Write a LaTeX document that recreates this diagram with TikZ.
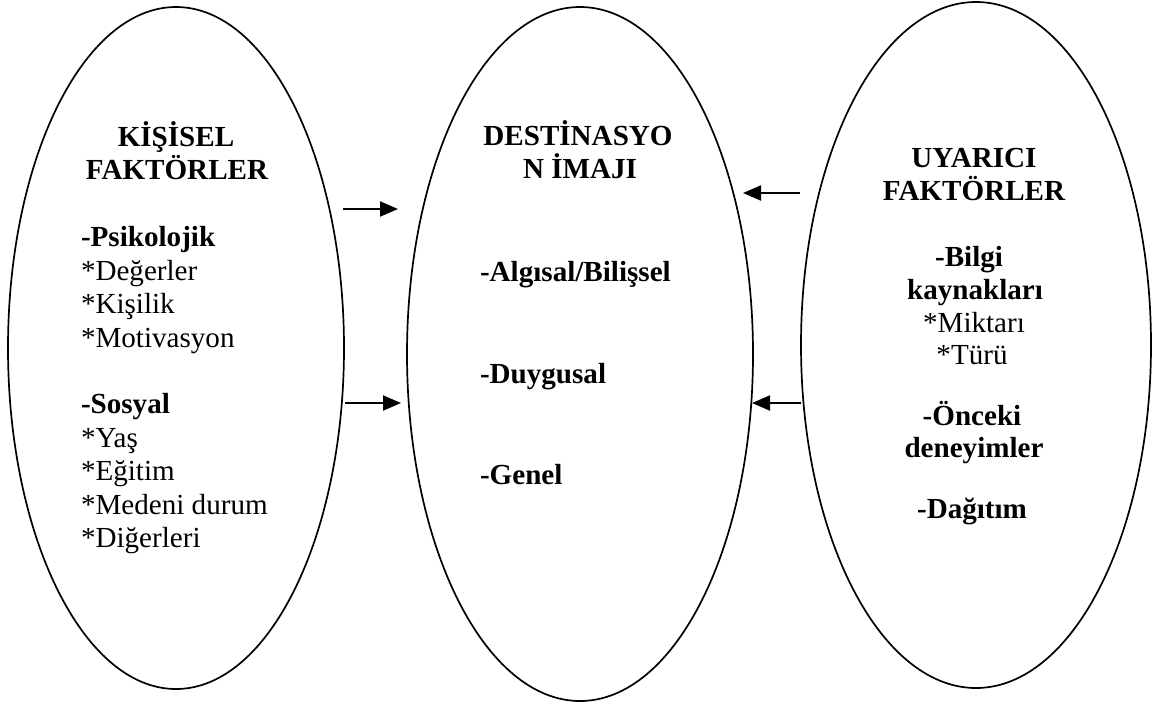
\documentclass[tikz,border=0pt]{standalone}
\usepackage{fontspec}
\setmainfont{Liberation Serif}
\usetikzlibrary{arrows.meta}
\tikzset{
  oval/.style={draw=black, line width=1.7pt},
  txt/.style={inner sep=0pt, outer sep=0pt, font=\fontsize{29.1}{33.5}\selectfont},
  btxt/.style={txt, font=\fontsize{29.1}{33.5}\selectfont\bfseries},
  conn/.style={line width=2pt, -{Triangle[length=18pt,width=15pt]}}
}
\newcommand{\tline}[5]{\node[#1,anchor=#2] (#3) at #4 {#5};}
\begin{document}
\begin{tikzpicture}[x=1pt,y=-1pt]
\useasboundingbox (0,0) rectangle (1158,705);
\fill[white] (0,0) rectangle (1158,705);
% ellipses
\draw[oval] (176,348) ellipse [x radius=168, y radius=341];
\draw[oval] (580,354) ellipse [x radius=173, y radius=347];
\draw[oval] (976,345) ellipse [x radius=175, y radius=343];
\coordinate (eL) at (176,348);
\coordinate (eM) at (580,354);
\coordinate (eR) at (976,345);
% left text
\tline{btxt}{base}{l1}{(176,146)}{KİŞİSEL}
\tline{btxt}{base}{l2}{(177,179.4)}{FAKTÖRLER}
\tline{btxt}{base west}{l3}{(81,246.8)}{-Psikolojik}
\tline{txt}{base west}{l4}{(81,280.2)}{*Değerler}
\tline{txt}{base west}{l5}{(81,313.6)}{*Kişilik}
\tline{txt}{base west}{l6}{(81,347)}{*Motivasyon}
\tline{btxt}{base west}{l7}{(81,413.8)}{-Sosyal}
\tline{txt}{base west}{l8}{(81,447.2)}{*Yaş}
\tline{txt}{base west}{l9}{(81,480.6)}{*Eğitim}
\tline{txt}{base west}{l10}{(81,514)}{*Medeni durum}
\tline{txt}{base west}{l11}{(81,547.4)}{*Diğerleri}
% middle text
\tline{btxt}{base}{m1}{(578,145)}{DESTİNASYO}
\tline{btxt}{base}{m2}{(580,178.7)}{N İMAJI}
\tline{btxt}{base west}{m3}{(480,281.5)}{-Algısal/Bilişsel}
\tline{btxt}{base west}{m4}{(480,383)}{-Duygusal}
\tline{btxt}{base west}{m5}{(480,484)}{-Genel}
% right text
\tline{btxt}{base}{r1}{(974,167)}{UYARICI}
\tline{btxt}{base}{r2}{(974,200)}{FAKTÖRLER}
\tline{btxt}{base}{r3}{(969,266)}{-Bilgi}
\tline{btxt}{base}{r4}{(975,299)}{kaynakları}
\tline{txt}{base}{r5}{(974,332)}{*Miktarı}
\tline{txt}{base}{r6}{(972,364)}{*Türü}
\tline{btxt}{base}{r7}{(972,425)}{-Önceki}
\tline{btxt}{base}{r8}{(974,457)}{deneyimler}
\tline{btxt}{base}{r9}{(972,518)}{-Dağıtım}
% arrows
\coordinate (a1s) at (343,209); \coordinate (a1e) at (398,209);
\coordinate (a2s) at (345,403); \coordinate (a2e) at (401,403);
\coordinate (a3s) at (800,193); \coordinate (a3e) at (743,193);
\coordinate (a4s) at (801,403); \coordinate (a4e) at (752,403);
\draw[conn] (a1s) -- (a1e);
\draw[conn] (a2s) -- (a2e);
\draw[conn] (a3s) -- (a3e);
\draw[conn] (a4s) -- (a4e);
\end{tikzpicture}
\end{document}
